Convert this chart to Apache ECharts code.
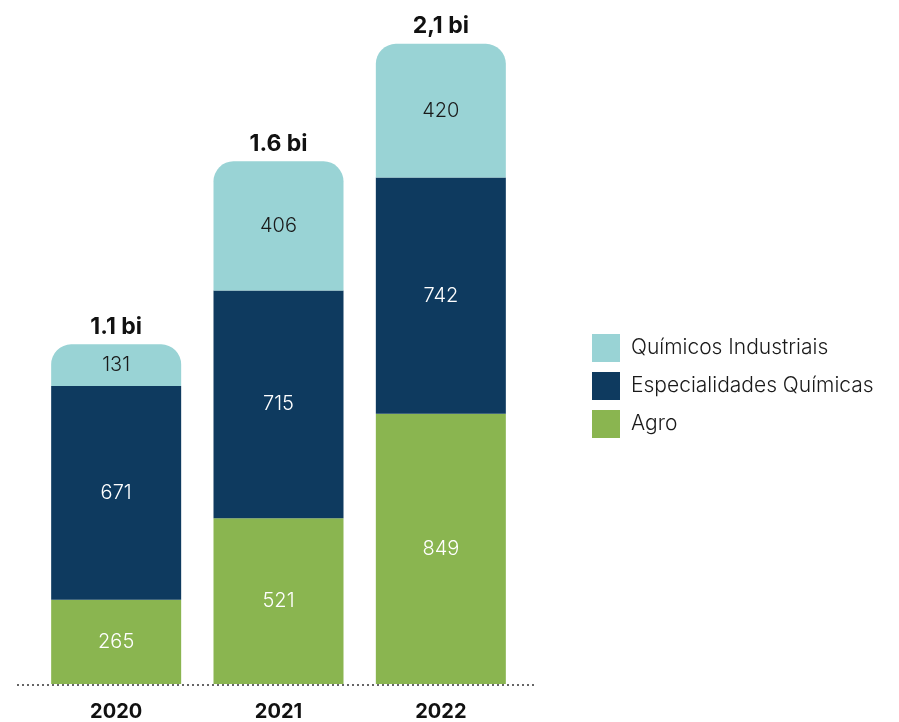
<!DOCTYPE html>
<html>
<head>
<meta charset="utf-8">
<script src="https://cdn.jsdelivr.net/npm/echarts@6/dist/echarts.min.js"></script>
<style>
  html, body { margin: 0; padding: 0; background: #fff; }
  #main { width: 899px; height: 722px; }
</style>
</head>
<body>
<div id="main"></div>
<script>
// dados
const anos = ['2020', '2021', '2022']
const agro = [265, 521, 849]
const especialidades = [671, 715, 742]
const quimicos = [131, 406, 420]
const totais = ['1.1 bi', '1.6 bi', '2,1 bi']

const fonte = 'Inter, "Noto Sans", sans-serif'

let myChart = echarts.init(document.getElementById('main'))

let valueLabel = (color) => ({
  show: true,
  position: 'inside',
  color: color,
  fontSize: 20,
  fontWeight: 300,
  fontFamily: fonte
})

let option = {
  animation: false,
  legend: {
    orient: 'vertical',
    left: 587,
    top: 329,
    itemWidth: 28,
    itemHeight: 28,
    itemGap: 10,
    icon: 'rect',
    data: ['Químicos Industriais', 'Especialidades Químicas', 'Agro'],
    textStyle: { fontSize: 21, fontWeight: 300, color: '#1a1a1a', fontFamily: fonte, padding: [0, 0, 0, 6] }
  },
  grid: { left: 35, width: 487, top: 41, bottom: 37 },
  xAxis: {
    type: 'category',
    data: anos,
    axisLine: { show: false },
    axisTick: { show: false },
    axisLabel: { margin: 18, fontSize: 20, fontWeight: 'bold', color: '#111', fontFamily: fonte }
  },
  yAxis: {
    type: 'value',
    min: 0,
    max: 2020,
    show: false,
    splitLine: { show: false }
  },
  graphic: [{
    type: 'line',
    shape: { x1: 17, y1: 685, x2: 537, y2: 685 },
    style: { stroke: '#666', lineWidth: 2, lineDash: [2, 3] },
    z: 10
  }],
  series: [
    {
      name: 'Agro',
      type: 'bar',
      stack: 'total',
      barWidth: 130,
      data: agro,
      itemStyle: { color: '#8ab550' },
      label: valueLabel('#fff')
    },
    {
      name: 'Especialidades Químicas',
      type: 'bar',
      stack: 'total',
      data: especialidades,
      itemStyle: { color: '#0e3a5f' },
      label: valueLabel('#fff')
    },
    {
      name: 'Químicos Industriais',
      type: 'bar',
      stack: 'total',
      data: quimicos,
      itemStyle: { color: '#99d3d5', borderRadius: [20, 20, 0, 0] },
      label: valueLabel('#1a1a1a')
    },
    {
      name: 'total',
      type: 'bar',
      stack: 'total',
      data: [0, 0, 0],
      itemStyle: { color: 'transparent' },
      label: {
        show: true,
        position: 'top',
        distance: 6,
        fontSize: 23,
        fontWeight: 'bold',
        color: '#111',
        fontFamily: fonte,
        formatter: (p) => totais[p.dataIndex]
      }
    }
  ]
}
myChart.setOption(option)
</script>
</body>
</html>
